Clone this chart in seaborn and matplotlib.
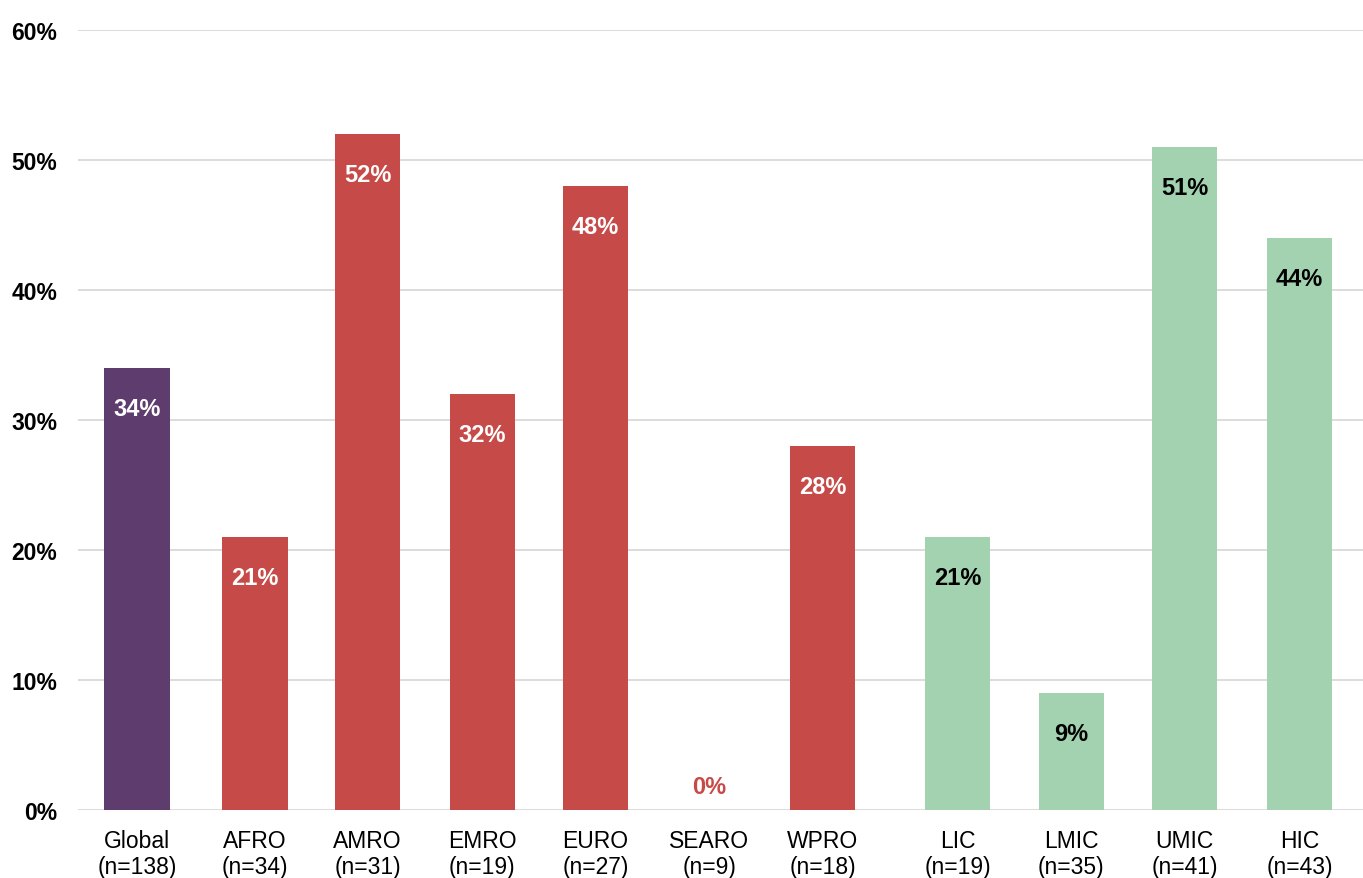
import matplotlib
matplotlib.use("Agg")
import matplotlib.pyplot as plt
import seaborn as sns
import pandas as pd
import numpy as np

categories = ["Global", "AFRO", "AMRO", "EMRO", "EURO", "SEARO", "WPRO", "LIC", "LMIC", "UMIC", "HIC"]
n_values = [138, 34, 31, 19, 27, 9, 18, 19, 35, 41, 43]
values = [34, 21, 52, 32, 48, 0, 28, 21, 9, 51, 44]
groups = ["Global", "Region", "Region", "Region", "Region", "Region", "Region",
          "Income", "Income", "Income", "Income"]

# layout: category positions (with extra gap before income groups)
positions = [0, 1.04, 2.03, 3.04, 4.04, 5.04, 6.04, 7.23, 8.23, 9.23, 10.24]
palette = {"Global": "#5E3C6E", "Region": "#C64A47", "Income": "#A3D2B0"}
label_colors = {"Global": "white", "Region": "white", "Income": "black"}

sns.set_theme(style="white")
plt.rcParams["font.family"] = ["Liberation Sans", "DejaVu Sans"]

df = pd.DataFrame({"cat": categories, "val": values, "grp": groups, "pos": positions})

fig = plt.figure(figsize=(13.63, 8.79), dpi=100)
ax = fig.add_axes([78 / 1363, (879 - 811) / 879, 1 - 78 / 1363, (811 - 31) / 879])

sns.barplot(data=df, x="pos", y="val", hue="grp", palette=palette, native_scale=True,
            dodge=False, width=0.58, legend=False, ax=ax, saturation=1, linewidth=0)

ax.set_ylim(0, 60)
ax.set_xlim(-0.52, 10.80)
ax.set_yticks(range(0, 61, 10))
ax.set_yticklabels([f"{t}%" for t in range(0, 61, 10)], fontsize=16.5, fontweight="bold", color="black")
ax.set_xticks(positions)
ax.set_xticklabels([f"{c}\n(n={n})" for c, n in zip(categories, n_values)], fontsize=16.5,
                   color="black", linespacing=1.15)
ax.tick_params(axis="x", length=0, pad=14)
ax.tick_params(axis="y", length=0, pad=15)
for s in ax.spines.values():
    s.set_visible(False)
ax.yaxis.grid(True, color="#D9D9D9", linewidth=1.3)
ax.set_axisbelow(True)
ax.set_xlabel("")
ax.set_ylabel("")

for p, v, g in zip(positions, values, groups):
    if v == 0:
        ax.annotate(f"{v}%", (p, v), xytext=(0, 17), textcoords="offset points",
                    ha="center", va="center", fontsize=17, fontweight="bold", color="#C64A47")
    else:
        ax.annotate(f"{v}%", (p, v), xytext=(0, -29.5), textcoords="offset points",
                    ha="center", va="center", fontsize=17, fontweight="bold", color=label_colors[g])

fig.savefig("out.png", dpi=100)
